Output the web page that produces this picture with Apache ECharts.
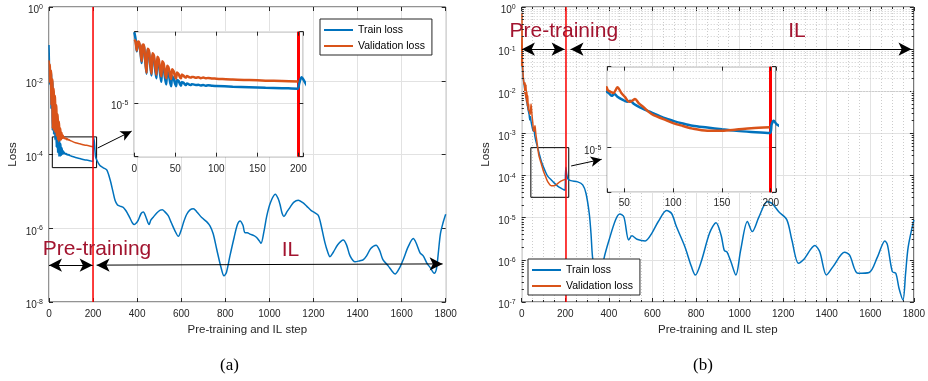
<!DOCTYPE html>
<html>
<head>
<meta charset="utf-8">
<script src="https://cdn.jsdelivr.net/npm/echarts@6/dist/echarts.min.js"></script>
<style>
  html, body { margin: 0; padding: 0; background: #fff; }
  #chart { width: 928px; height: 381px; }
</style>
</head>
<body>
<div id="chart"></div>
<script>
// ---- Data: loss curves, stored as [step, log10(loss)] ----

// (a) pre-training steps 0..70, one value per step (index = step)
const trainAEarly = [-1.03,-1.25,-1.55,-2.1,-1.65,-1.6,-1.68,-1.95,-2.35,-2.75,
  -1.8,-1.78,-1.9,-2.45,-2.95,-3.35,-2.0,-2.05,-2.18,-2.7,
  -3.1,-3.45,-2.3,-2.35,-2.48,-2.95,-3.3,-3.6,-2.6,-2.65,
  -2.8,-3.2,-3.55,-3.8,-2.9,-2.95,-3.1,-3.45,-3.75,-3.95,
  -3.2,-3.28,-3.4,-3.65,-3.9,-4.05,-3.5,-3.55,-3.62,-3.8,
  -3.95,-4.05,-3.7,-3.72,-3.76,-3.86,-3.97,-4.02,-3.82,-3.84,
  -3.86,-3.92,-3.97,-3.99,-3.9,-3.91,-3.93,-3.96,-3.98,-3.99,
  -3.94];
const valAEarly = [-1.45,-1.5,-1.7,-2.05,-1.6,-1.55,-1.62,-1.9,-2.3,-2.65,
  -1.75,-1.72,-1.85,-2.4,-2.9,-3.3,-1.95,-1.98,-2.1,-2.6,
  -3.0,-3.35,-2.2,-2.25,-2.35,-2.8,-3.1,-3.4,-2.4,-2.45,
  -2.6,-3.0,-3.3,-3.5,-2.65,-2.7,-2.82,-3.2,-3.45,-3.6,
  -2.9,-2.95,-3.05,-3.3,-3.55,-3.65,-3.1,-3.15,-3.22,-3.4,
  -3.55,-3.62,-3.28,-3.32,-3.37,-3.48,-3.58,-3.6,-3.4,-3.43,
  -3.46,-3.52,-3.56,-3.57,-3.48,-3.5,-3.52,-3.55,-3.56,-3.57,
  -3.53];

// (a) later steps
const trainALate = [[72,-3.95],[75,-3.99],[78,-3.97],[81,-4.01],[84,-3.99],[87,-4.02],[90,-4.0],[95,-4.03],[100,-4.04],
  [120,-4.08],[140,-4.11],[160,-4.14],[180,-4.16],[199,-4.19],
  [201,-3.9],[204,-3.55],[207,-3.75],[211,-4.05],[216,-4.14],[231,-4.3],[246,-4.36],[262,-4.42],[277,-4.68],
  [290,-5.0],[300,-5.25],[310,-5.36],[322,-5.4],[335,-5.43],[345,-5.49],[355,-5.58],[367,-5.72],[378,-5.85],
  [387,-5.9],[396,-5.86],[405,-5.78],[418,-5.6],[428,-5.56],[440,-5.7],[454,-5.9],[462,-5.78],[473,-5.7],
  [490,-5.58],[505,-5.51],[514,-5.5],[525,-5.55],[541,-5.66],[555,-5.85],[570,-6.05],[587,-6.22],[600,-6.05],
  [610,-5.85],[625,-5.62],[640,-5.5],[655,-5.47],[670,-5.55],[693,-5.71],[715,-5.82],[731,-5.94],[745,-6.15],
  [761,-6.57],[780,-7.05],[794,-7.29],[805,-7.2],[821,-6.75],[840,-6.25],[855,-5.9],[867,-5.8],[880,-5.92],
  [889,-6.12],[900,-6.12],[912,-6.16],[930,-6.2],[942,-6.25],[955,-6.35],[962,-6.41],[975,-6.1],[988,-5.67],
  [1005,-5.3],[1027,-5.08],[1040,-5.2],[1048,-5.35],[1058,-5.6],[1066,-5.68],[1080,-5.55],[1093,-5.44],
  [1110,-5.3],[1131,-5.24],[1150,-5.3],[1169,-5.4],[1190,-5.52],[1207,-5.58],[1222,-5.65],[1232,-5.85],
  [1252,-6.39],[1265,-6.65],[1275,-6.77],[1290,-6.65],[1310,-6.45],[1335,-6.32],[1350,-6.45],[1366,-6.75],
  [1389,-6.91],[1411,-6.88],[1425,-6.86],[1441,-6.75],[1460,-6.55],[1484,-6.46],[1500,-6.6],[1515,-6.85],
  [1539,-7.02],[1555,-7.15],[1570,-7.24],[1592,-7.06],[1608,-6.84],[1630,-6.5],[1653,-6.28],[1666,-6.4],
  [1683,-6.66],[1698,-6.75],[1715,-6.95],[1729,-7.06],[1748,-7.22],[1758,-7.1],[1766,-6.7],[1776,-6.15],
  [1788,-5.85],[1800,-5.62]];
const valALate = [[72,-3.53],[75,-3.58],[78,-3.55],[81,-3.6],[84,-3.57],[87,-3.61],[90,-3.59],[95,-3.62],[100,-3.63],
  [120,-3.68],[140,-3.71],[160,-3.74],[180,-3.76],[200,-3.79]];

// (b)
const trainB = [[0,-1.0],[1,-1.2],[3,-1.4],[5,-1.55],[8,-1.72],[12,-1.88],[16,-2.02],[20,-2.15],[25,-2.3],[30,-2.45],
  [34,-2.55],[37,-2.68],[40,-2.6],[43,-2.72],[48,-2.85],[53,-2.95],[56,-2.9],[60,-3.05],[66,-3.2],[73,-3.33],
  [80,-3.47],[90,-3.66],[100,-3.8],[110,-3.92],[120,-4.02],[135,-4.1],[150,-4.18],[165,-4.25],[180,-4.3],[199,-4.35],
  [201,-3.95],[203,-3.8],[206,-3.95],[212,-4.08],[225,-4.12],[257,-4.15],[280,-4.22],[295,-4.42],[310,-4.9],[318,-5.37],
  [325,-5.93],[340,-6.45],[352,-6.6],[365,-6.4],[378,-5.96],[401,-5.53],[431,-5.05],[450,-4.91],[469,-4.98],[491,-5.53],
  [506,-5.43],[529,-5.51],[567,-5.55],[597,-5.37],[627,-5.09],[665,-4.83],[688,-4.9],[710,-5.21],[749,-5.69],[779,-6.16],
  [797,-6.36],[824,-6.04],[862,-5.37],[892,-5.12],[915,-5.41],[930,-5.78],[942,-5.81],[960,-6.04],[983,-6.36],[1005,-5.77],
  [1036,-5.09],[1058,-5.33],[1089,-4.98],[1127,-4.62],[1149,-4.66],[1180,-4.86],[1217,-5.05],[1240,-5.53],[1270,-6.08],[1293,-6.0],
  [1346,-5.66],[1368,-5.81],[1399,-6.36],[1429,-6.16],[1482,-5.82],[1505,-5.89],[1543,-6.32],[1595,-6.3],[1633,-5.93],[1667,-5.55],
  [1679,-5.65],[1701,-6.28],[1717,-6.32],[1732,-6.68],[1750,-6.95],[1762,-6.32],[1774,-5.69],[1800,-5.05]];
const valB = [[0,-1.4],[1,-0.15],[2,-0.6],[3,-1.2],[5,-1.5],[8,-1.7],[11,-1.85],[13,-1.8],[14,-2.05],[16,-1.8],
  [18,-2.15],[20,-1.85],[22,-2.25],[24,-2.0],[26,-2.35],[28,-2.1],[30,-2.45],[32,-2.3],[33,-2.42],[36,-2.5],
  [39,-2.55],[43,-2.3],[47,-2.55],[51,-2.75],[55,-2.95],[58,-2.9],[61,-2.82],[65,-3.02],[70,-3.2],[75,-3.4],
  [80,-3.55],[90,-3.72],[100,-3.9],[110,-4.03],[120,-4.15],[135,-4.24],[150,-4.24],[165,-4.19],[180,-4.13],[199,-4.09]];

// Tick labels
const mainXTicks = [0, 200, 400, 600, 800, 1000, 1200, 1400, 1600, 1800];
const insetATicks = [0, 50, 100, 150, 200];
const insetBTicks = [50, 100, 150, 200];
const insetYTick = -5;           // only labelled decade inside the zoom panels
const boundaryStep = 200;        // end of pre-training

// ---- Styles ----
const AX = '#262626';
const GRID_C = '#e2e2e2';
const MINOR_C = '#cccccc';
const BLUE = '#0072BD', ORANGE = '#D95319', RED = '#FF0000', CRIMSON = '#A2142F';
const FONT = '"Liberation Sans", Arial, sans-serif';

const toLoss = pts => pts.map(p => [p[0], Math.pow(10, p[1])]);
const trainA = trainAEarly.map((v, i) => [i, v]).concat(trainALate);
const valA = valAEarly.map((v, i) => [i, v]).concat(valALate);

const supRich = {
  b: { fontSize: 10, lineHeight: 12, verticalAlign: 'bottom', color: AX, fontFamily: FONT },
  s: { fontSize: 7, lineHeight: 4, verticalAlign: 'top', color: AX, fontFamily: FONT }
};
function decadeLabel(v) {
  const e = Math.log10(v), r = Math.round(e);
  if (Math.abs(e - r) > 1e-6) return '';
  return '{b|10}{s|' + r + '}';
}
function onlyDecade(target) {
  return v => Math.abs(Math.log10(v) - target) < 1e-6 ? decadeLabel(v) : '';
}
const tick = { inside: true, length: 4, lineStyle: { color: AX, width: 1 } };
const noLine = { show: false, onZero: false };
const tickText = { fontSize: 10, color: AX, fontFamily: FONT };
const nameText = { fontSize: 11.5, color: AX, fontFamily: FONT };
const minorTickX = { show: true, splitNumber: 4, length: 2, lineStyle: { color: AX } };

// ---- Axes (per panel: bottom/top x, left/right y; panel p uses index 2*p) ----
function xBottom(gi, min, max, extra) {
  return Object.assign({
    gridIndex: gi, type: 'value', min, max,
    axisLine: noLine, axisTick: tick,
    axisLabel: Object.assign({ margin: 7, formatter: v => String(v) }, tickText),
    splitLine: { show: true, lineStyle: { color: GRID_C, width: 1 } }
  }, extra);
}
function xTop(gi, min, max, extra) {
  return Object.assign({
    gridIndex: gi, type: 'value', position: 'top', min, max,
    axisLine: noLine, axisTick: tick, axisLabel: { show: false }, splitLine: { show: false }
  }, extra);
}
function yLeft(gi, base, min, max, extra) {
  return Object.assign({
    gridIndex: gi, type: 'log', logBase: base, min, max,
    axisLine: noLine, axisTick: tick,
    axisLabel: { formatter: decadeLabel, rich: supRich, padding: [5, 0, 0, 0], margin: 6 },
    splitLine: { show: true, lineStyle: { color: GRID_C, width: 1 } }
  }, extra);
}
function yRight(gi, base, min, max, extra) {
  return Object.assign({
    gridIndex: gi, type: 'log', logBase: base, min, max, position: 'right',
    axisLine: noLine, axisTick: tick, axisLabel: { show: false }, splitLine: { show: false }
  }, extra);
}

const xMax = mainXTicks[mainXTicks.length - 1];
const xStep = mainXTicks[1] - mainXTicks[0];
const xName = {
  name: 'Pre-training and IL step', nameLocation: 'middle', nameGap: 22, nameTextStyle: nameText
};
const yName = { name: 'Loss', nameLocation: 'middle', nameGap: 30, nameTextStyle: nameText };

const insetXLabel = (ticks, margin) => Object.assign({
  margin, formatter: v => (ticks.indexOf(v) >= 0 ? String(v) : '')
}, tickText);
const insetYLabel = { formatter: onlyDecade(insetYTick), rich: supRich, padding: [5, 0, 0, 0], margin: 6 };

const xAxis = [
  xBottom(0, mainXTicks[0], xMax, Object.assign({ interval: xStep }, xName)),
  xTop(0, mainXTicks[0], xMax, { interval: xStep }),
  xBottom(1, 0, 206, { interval: 50, z: 5, axisLabel: insetXLabel(insetATicks, 8) }),
  xTop(1, 0, 206, { interval: 50, z: 5 }),
  xBottom(2, mainXTicks[0], xMax, Object.assign({
    interval: xStep, minorTick: minorTickX,
    minorSplitLine: { show: true, lineStyle: { color: MINOR_C, width: 1, type: [1, 2] } }
  }, xName)),
  xTop(2, mainXTicks[0], xMax, { interval: xStep, minorTick: minorTickX }),
  xBottom(3, 32.6, 205.4, { splitNumber: 3, z: 5, axisLabel: insetXLabel(insetBTicks, 6) }),
  xTop(3, 32.6, 205.4, { splitNumber: 3, z: 5 })
];

const yAxis = [
  yLeft(0, 100, 1e-8, 1, yName),
  yRight(0, 100, 1e-8, 1),
  yLeft(1, 1e5, 1e-8, 1e-1, { z: 5, axisLabel: insetYLabel }),
  yRight(1, 1e5, 1e-8, 1e-1, { z: 5 }),
  yLeft(2, 10, 1e-7, 1, yName),
  yRight(2, 10, 1e-7, 1),
  yLeft(3, 1e5, 1e-7, 0.042, { z: 5, axisLabel: insetYLabel }),
  yRight(3, 1e5, 1e-7, 0.042, { z: 5 })
];

// ---- Series ----
function curve(name, pts, color, panel, width, z) {
  return {
    type: 'line', name, data: toLoss(pts), xAxisIndex: 2 * panel, yAxisIndex: 2 * panel,
    symbol: 'none', showSymbol: false, smooth: 0.3, clip: true,
    lineStyle: { color, width }, itemStyle: { color }, z, silent: true
  };
}
function helper(panel, z, extra) {
  return Object.assign({ type: 'line', data: [], xAxisIndex: 2 * panel, yAxisIndex: 2 * panel, z, silent: true, symbol: 'none' }, extra);
}
function redLine(width) {
  return {
    silent: true, symbol: ['none', 'none'], label: { show: false },
    lineStyle: { color: RED, width, type: 'solid' },
    data: [{ xAxis: boundaryStep }]
  };
}
function arrows(symbol, size, data) {
  return {
    silent: true, symbol, symbolSize: size, label: { show: false },
    lineStyle: { color: '#000', width: 1, type: 'solid' }, itemStyle: { color: '#000' }, data
  };
}
function zoomBox(x0, y0, x1, y1) {
  return {
    silent: true, label: { show: false },
    itemStyle: { color: 'rgba(0,0,0,0)', borderColor: '#000', borderWidth: 1 },
    data: [[{ coord: [x0, y0] }, { coord: [x1, y1] }]]
  };
}

// Minor log grid lines and minor ticks for panel (b)
const minorVals = [];
for (let e = -7; e < 0; e++) for (let m = 2; m <= 9; m++) minorVals.push(m * Math.pow(10, e));
const minorTickLen = 10;   // in steps along x (about 2 px)
const minorTickSegs = [];
minorVals.forEach(v => {
  minorTickSegs.push([{ coord: [0, v] }, { coord: [minorTickLen, v] }]);
  minorTickSegs.push([{ coord: [xMax - minorTickLen, v] }, { coord: [xMax, v] }]);
});

const series = [
  // (a) main
  curve('Train loss', trainA, BLUE, 0, 1.5, 2),
  curve('Validation loss', valA, ORANGE, 0, 1.5, 2),
  helper(0, 3, { markLine: redLine(1.5) }),
  helper(0, 3, { markLine: arrows(['arrow', 'arrow'], [10, 13],
    [[{ coord: [0, 1e-7] }, { coord: [198, 1e-7] }], [{ coord: [216, 1e-7] }, { coord: [1786, 1.08e-7] }]]) }),
  helper(0, 3, {
    markArea: zoomBox(15, 3.0e-4, 216, 4.4e-5),
    markLine: arrows(['none', 'arrow'], [8, 11], [[{ coord: [221, 1.5e-4] }, { coord: [375, 4.3e-4] }]])
  }),
  // (a) zoom panel
  curve('Train loss', trainA, BLUE, 1, 2.5, 6),
  curve('Validation loss', valA, ORANGE, 1, 2.5, 6),
  helper(1, 7, { markLine: redLine(3) }),
  // (b) main
  helper(2, 1, { markLine: { silent: true, symbol: ['none', 'none'], label: { show: false },
    lineStyle: { color: MINOR_C, width: 1, type: [1, 2] }, data: minorVals.map(v => ({ yAxis: v })) } }),
  helper(2, 1, { markLine: { silent: true, symbol: ['none', 'none'], label: { show: false },
    lineStyle: { color: AX, width: 1, type: 'solid' }, data: minorTickSegs } }),
  curve('Train loss', trainB, BLUE, 2, 1.5, 2),
  curve('Validation loss', valB, ORANGE, 2, 1.5, 2),
  helper(2, 3, { markLine: redLine(1.5) }),
  helper(2, 3, { markLine: arrows(['arrow', 'arrow'], [10, 13],
    [[{ coord: [1, 0.1] }, { coord: [197, 0.1] }], [{ coord: [224, 0.1] }, { coord: [1789, 0.1] }]]) }),
  helper(2, 3, {
    markArea: zoomBox(42, 4.6e-4, 216, 3.05e-5),
    markLine: arrows(['none', 'arrow'], [8, 11], [[{ coord: [227, 1.69e-4] }, { coord: [367, 2.43e-4] }]])
  }),
  // (b) zoom panel
  curve('Train loss', trainB, BLUE, 3, 2.5, 6),
  curve('Validation loss', valB, ORANGE, 3, 2.5, 6),
  helper(3, 7, { markLine: redLine(3) })
];

function legendAt(left, top) {
  return {
    data: ['Train loss', 'Validation loss'], orient: 'vertical', left, top,
    icon: 'rect', itemWidth: 29, itemHeight: 2, itemGap: 4,
    padding: [5, 7, 3, 4], backgroundColor: '#fff', borderColor: AX, borderWidth: 1,
    textStyle: { fontSize: 10.5, color: '#000', fontFamily: FONT, lineHeight: 12 },
    selectedMode: false, z: 10
  };
}

function label(text, x, y, size, fill, family) {
  return {
    type: 'text', x, y, z: 9, silent: true,
    style: { text, fill, font: size + 'px ' + family, align: 'center', verticalAlign: 'middle' }
  };
}

const option = {
  animation: false,
  backgroundColor: '#fff',
  grid: [
    { left: 49, top: 7, width: 396.7, height: 295, show: true, borderColor: AX, borderWidth: 1, backgroundColor: 'transparent', z: 0 },
    { left: 134.3, top: 31.7, width: 169, height: 125, show: true, borderColor: AX, borderWidth: 1, backgroundColor: '#fff', z: 4 },
    { left: 521.7, top: 7, width: 396.6, height: 295, show: true, borderColor: AX, borderWidth: 1, backgroundColor: 'transparent', z: 0 },
    { left: 607.3, top: 66.7, width: 168.7, height: 125.6, show: true, borderColor: AX, borderWidth: 1, backgroundColor: '#fff', z: 4 }
  ],
  xAxis, yAxis, series,
  legend: [legendAt(320, 19), legendAt(528, 259)],
  graphic: [
    label('Pre-training', 97, 249.7, 21, CRIMSON, FONT),
    label('IL', 290.5, 250.3, 21, CRIMSON, FONT),
    label('Pre-training', 563.8, 31, 21, CRIMSON, FONT),
    label('IL', 797, 31, 21, CRIMSON, FONT),
    label('(a)', 229.5, 365.5, 17, '#000', '"Liberation Serif", "Times New Roman", serif'),
    label('(b)', 703, 365.5, 17, '#000', '"Liberation Serif", "Times New Roman", serif')
  ]
};

const chart = echarts.init(document.getElementById('chart'), null, { renderer: 'canvas' });
chart.setOption(option);
</script>
</body>
</html>
